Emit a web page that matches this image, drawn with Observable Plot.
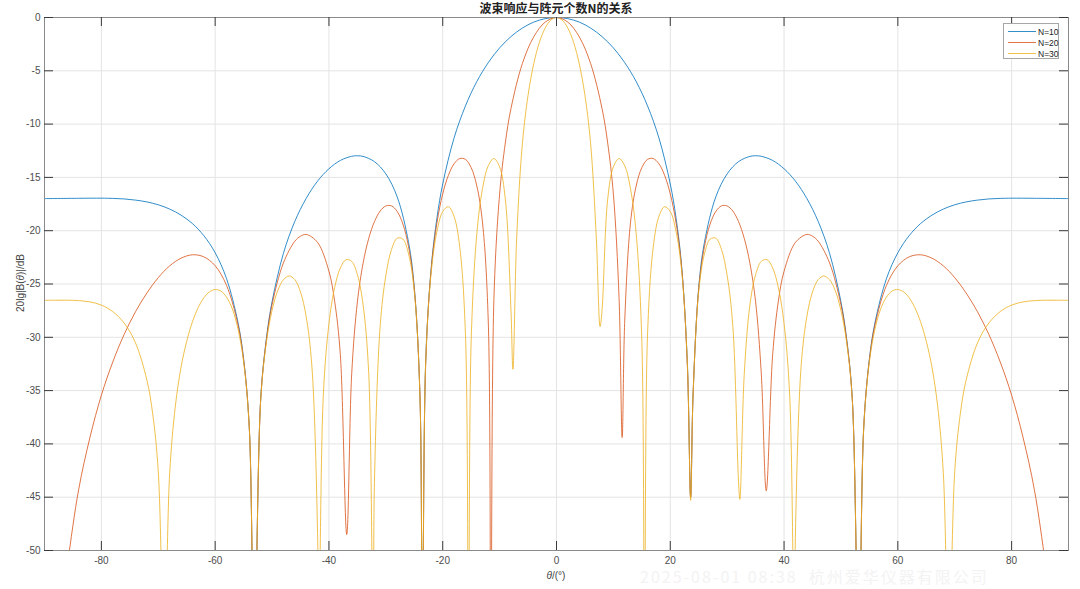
<!DOCTYPE html>
<html>
<head>
<meta charset="utf-8">
<script src="https://cdn.jsdelivr.net/npm/d3@7"></script>
<script src="https://cdn.jsdelivr.net/npm/@observablehq/plot@0.6"></script>
<style>
  html, body { margin: 0; padding: 0; background: #fff; }
  #wrap { position: relative; width: 1080px; height: 589px; overflow: hidden; font-family: "Liberation Sans", Arial, sans-serif; }
  #title { box-sizing: border-box; height: 16px; padding-top: 1px; line-height: 14px; text-align: center; width: 1112px; font-family: "Noto Sans CJK SC", sans-serif; font-weight: bold; font-size: 12px; color: #222; }
  #chart svg { display: block; }
  .lbl { position: absolute; font-size: 10px; color: #444; white-space: nowrap; }
  #ylab { left: 20px; top: 283px; transform: translate(-50%, -50%) rotate(-90deg); }
  #xlab { left: 556px; top: 575px; transform: translate(-50%, -50%); }
  #legend { position: absolute; left: 1003px; top: 23px; width: 54px; height: 34px; border: 1px solid #a6a6a6; background: #fff; font-size: 8.5px; color: #222; }
  .row { position: absolute; left: 4px; height: 11px; display: flex; align-items: center; }
  .sw { width: 28px; height: 0; border-top: 1px solid; margin-right: 2px; opacity: 0.8; }
  #wm { position: absolute; left: 640px; top: 567px; height: 18px; line-height: 18px; font-size: 16px; color: #f3f3f3; white-space: nowrap; font-family: "Noto Sans CJK SC", sans-serif; letter-spacing: 2px; }
</style>
</head>
<body>
<div id="wrap">
  <div id="title">波束响应与阵元个数N的关系</div>
  <div id="chart"></div>
  <div id="wm">2025-08-01 08:38 &nbsp;杭州爱华仪器有限公司</div>
  <div class="lbl" id="ylab">20lg|B(<i>θ</i>)|/dB</div>
  <div class="lbl" id="xlab"><i>θ</i>/(°)</div>
  <div id="legend"></div>
</div>
<script>
// Tick values
const xTicks = [-80, -60, -40, -20, 0, 20, 40, 60, 80];
const yTicks = [0, -5, -10, -15, -20, -25, -30, -35, -40, -45, -50];

// Series names and colours
const seriesNames = ["N=10", "N=20", "N=30"];
const seriesColors = ["#0072BD", "#D95319", "#EDB120"];

// N=10
const theta10 = [-90,-84,-80,-78,-76,-74,-72,-70,-68,-66,-64,-62,-60,-58,-56,-55,-54,-53.13,-52,-51,-50,-48,-46,-44,-42,-40,-38,-36,-35,-34,-32,-30,-28,-26,-25,-24,-23.58,-23,-22,-21,-20,-18,-16,-14,-12,-10,-8,-6,-4,-2,
  0,2,4,6,8,10,12,14,16,18,20,21,22,23,23.58,24,25,26,28,30,32,34,35,36,38,40,42,44,46,48,50,51,52,53.13,54,55,56,58,60,62,64,66,68,70,72,74,76,78,80,84,90];
const db10 = [-16.99,-16.96,-16.95,-16.97,-17.02,-17.13,-17.30,-17.57,-17.97,-18.54,-19.33,-20.46,-22.07,-24.50,-28.58,-32.03,-38.5,-60,-35.8,-30.14,-26.67,-22.12,-19.13,-16.97,-15.35,-14.19,-13.41,-13.02,-12.97,-13.03,-13.52,-14.67,-16.83,-21.11,-25.32,-35.5,-60,-32.35,-23.35,-18.75,-15.62,-11.29,-8.29,-6.00,-4.24,-2.85,-1.79,-0.99,-0.43,-0.11,
  0,-0.11,-0.43,-0.99,-1.79,-2.85,-4.24,-6.00,-8.29,-11.29,-15.62,-18.75,-23.35,-32.35,-45,-35.5,-25.32,-21.11,-16.83,-14.67,-13.52,-13.03,-12.97,-13.02,-13.41,-14.19,-15.35,-16.97,-19.13,-22.12,-26.67,-30.14,-35.8,-60,-38.5,-32.03,-28.58,-24.50,-22.07,-20.46,-19.33,-18.54,-17.97,-17.57,-17.30,-17.13,-17.02,-16.97,-16.95,-16.96,-16.99];

// N=20
const theta20 = [-90,-88,-86,-84,-82,-80,-78,-76,-74,-72,-70,-68,-66,-64,-62,-60,-58,-56,-55,-54,-53.13,-52,-51,-50,-48,-46,-45,-44,-42,-40,-39,-38,-36.87,-36,-35,-34,-33,-32,-31,-30,-29,-28,-27,-26,-25,-24,-23.58,-23,-22,-21,-20,-19,-18,-17,-16,-15,-14,-13,-12,-11.54,-11,-10,-9,-8,-6,-4,-2,
  0,2,4,6,8,9,10,11,11.54,12,13,14,15,16,17,18,19,20,21,22,23,23.58,24,25,26,27,28,29,30,31,32,33,34,35,36,36.87,38,39,40,42,44,45,46,48,50,51,52,53.13,54,55,56,58,60,62,64,66,68,70,72,74,76,78,80,82,84,86,88,90];
const db20 = [-70,-60,-51.5,-44.3,-39.37,-35.43,-32.32,-29.73,-27.60,-25.84,-24.40,-23.30,-22.58,-22.26,-22.45,-23.29,-25.13,-28.79,-32.12,-38.5,-60,-35.85,-30.27,-26.94,-23.02,-20.99,-20.52,-20.35,-21.10,-23.81,-26.61,-31.61,-48.5,-33.43,-26.68,-23.06,-20.71,-19.15,-18.16,-17.68,-17.67,-18.20,-19.38,-21.51,-25.46,-35.5,-60,-32.63,-23.47,-19.21,-16.54,-14.80,-13.72,-13.23,-13.31,-14.08,-15.81,-19.27,-28.38,-60,-26.35,-16.57,-11.77,-8.53,-4.32,-1.81,-0.44,
  0,-0.44,-1.81,-4.32,-8.53,-11.77,-16.57,-26.35,-39.4,-28.38,-19.27,-15.81,-14.08,-13.31,-13.23,-13.72,-14.80,-16.54,-19.21,-23.47,-32.63,-45,-35.5,-25.46,-21.51,-19.38,-18.20,-17.67,-17.68,-18.16,-19.15,-20.71,-23.06,-26.68,-33.43,-44.4,-31.61,-26.61,-23.81,-21.10,-20.35,-20.52,-20.99,-23.02,-26.94,-30.27,-35.85,-60,-38.5,-32.12,-28.79,-25.13,-23.29,-22.45,-22.26,-22.58,-23.30,-24.40,-25.84,-27.60,-29.73,-32.32,-35.43,-39.37,-44.3,-51.5,-60,-70];

// N=30
const theta30 = [-90,-88,-86,-84,-82,-80,-78,-76,-74,-72,-71,-70,-68.96,-68,-67,-66,-65,-64,-63,-62,-61,-60,-59,-58,-57,-56,-55,-54,-53.13,-52,-51,-50,-49,-48,-47,-46,-45,-44,-43,-42,-41.81,-41,-40,-39,-38,-37,-36,-35,-34,-33,-32.23,-32,-31,-30,-29,-28,-27,-26,-25,-24,-23.58,-23,-22,-21,-20,-19,-18,-17,-16,-15.47,-15,-14,-13,-12,-11,-10,-9,-8,-7.66,-7,-6,-5,-4,-3,-2,-1,
  0,1,2,3,4,5,6,7,7.66,8,9,10,11,12,13,14,15,15.47,16,17,18,19,20,21,22,23,23.58,24,25,26,27,28,29,30,31,32,32.23,33,34,35,36,37,38,39,40,41,41.81,42,43,44,45,46,47,48,49,50,51,52,53.13,54,55,56,57,58,59,60,61,62,63,64,65,66,67,68,68.96,70,71,72,74,76,78,80,82,84,86,88,90];
const db30 = [-26.53,-26.52,-26.52,-26.56,-26.68,-26.98,-27.59,-28.66,-30.53,-34.02,-37.10,-42.6,-60,-42.8,-36.45,-32.81,-30.37,-28.55,-27.23,-26.30,-25.74,-25.52,-25.66,-26.23,-27.31,-29.19,-32.30,-38.55,-60,-35.93,-30.50,-27.48,-25.62,-24.60,-24.25,-24.59,-25.75,-28.07,-32.72,-48.4,-60,-35.57,-28.72,-25.34,-23.50,-22.72,-22.88,-24.12,-26.95,-33.50,-60,-43.6,-28.98,-24.21,-21.76,-20.70,-20.79,-22.19,-25.70,-35.58,-60,-32.41,-23.77,-20.03,-18.20,-17.75,-18.67,-21.57,-29.78,-60,-30.36,-20.25,-16.04,-13.92,-13.23,-14.01,-17.03,-27.52,-33,-20.69,-11.84,-7.30,-4.34,-2.32,-1.00,-0.25,
  0,-0.25,-1.00,-2.32,-4.34,-7.30,-11.84,-20.69,-29,-27.52,-17.03,-14.01,-13.23,-13.92,-16.04,-20.25,-30.36,-60,-29.78,-21.57,-18.67,-17.75,-18.20,-20.03,-23.77,-32.41,-45.3,-35.58,-25.70,-22.19,-20.79,-20.70,-21.76,-24.21,-28.98,-43.6,-45.2,-33.50,-26.95,-24.12,-22.88,-22.72,-23.50,-25.34,-28.72,-35.57,-60,-48.4,-32.72,-28.07,-25.75,-24.59,-24.25,-24.60,-25.62,-27.48,-30.50,-35.93,-60,-38.55,-32.30,-29.19,-27.31,-26.23,-25.66,-25.52,-25.74,-26.30,-27.23,-28.55,-30.37,-32.81,-36.45,-42.8,-60,-42.6,-37.10,-34.02,-30.53,-28.66,-27.59,-26.98,-26.68,-26.56,-26.52,-26.52,-26.53];

const thetas = [theta10, theta20, theta30];
const dbs = [db10, db20, db30];
const rows = thetas.map((t, i) => t.map((x, j) => ({theta: x, db: dbs[i][j], series: seriesNames[i]})));

const fmt = d => String(d);
const frameW = 1080 - 44 - 12;
const frameH = 573 - 1 - 39;
const tickLen = 9;

const chart = Plot.plot({
  width: 1080,
  height: 573,
  marginTop: 1,
  marginBottom: 39,
  marginLeft: 44,
  marginRight: 12,
  style: {fontFamily: "'Liberation Sans', Arial, sans-serif", fontSize: "10px", color: "#4d4d4d", background: "#fff", overflow: "visible"},
  x: {domain: [-90, 90], ticks: xTicks, tickFormat: fmt, tickSize: 0, tickPadding: 6, label: null},
  y: {domain: [-50, 0], ticks: yTicks, tickFormat: fmt, tickSize: 0, tickPadding: 4, label: null},
  marks: [
    Plot.ruleX(xTicks, {stroke: "#e4e4e4", strokeWidth: 1}),
    Plot.ruleY(yTicks, {stroke: "#e4e4e4", strokeWidth: 1}),
    ...rows.map((r, i) => Plot.line(r, {x: "theta", y: "db", stroke: seriesColors[i], strokeWidth: 0.9, strokeOpacity: 0.9, curve: "catmull-rom", clip: true})),
    Plot.frame({stroke: "#8a8a8a", strokeWidth: 1}),
    Plot.ruleX(xTicks, {stroke: "#3a3a3a", insetTop: frameH - tickLen}),
    Plot.ruleX(xTicks, {stroke: "#3a3a3a", insetBottom: frameH - tickLen}),
    Plot.ruleY(yTicks, {stroke: "#3a3a3a", insetRight: frameW - tickLen}),
    Plot.ruleY(yTicks, {stroke: "#3a3a3a", insetLeft: frameW - tickLen})
  ]
});
document.getElementById("chart").appendChild(chart);

// Legend
const legend = document.getElementById("legend");
seriesNames.forEach((name, i) => {
  const row = document.createElement("div");
  row.className = "row";
  row.style.top = (2 + i * 11) + "px";
  const sw = document.createElement("div");
  sw.className = "sw";
  sw.style.borderTopColor = seriesColors[i];
  const tx = document.createElement("span");
  tx.textContent = name;
  row.appendChild(sw);
  row.appendChild(tx);
  legend.appendChild(row);
});
</script>
</body>
</html>
